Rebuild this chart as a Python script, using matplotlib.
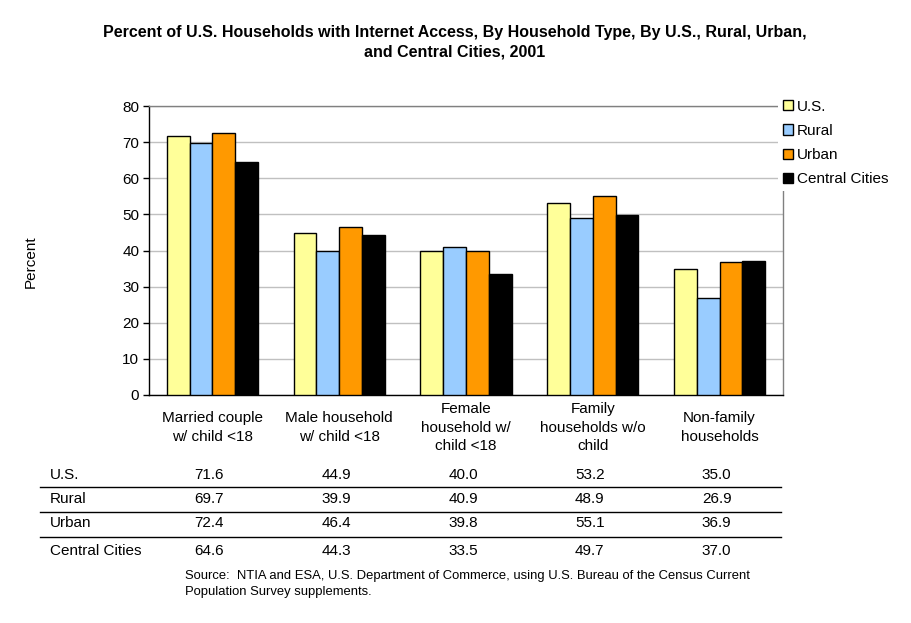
import matplotlib
matplotlib.use("Agg")
import matplotlib.pyplot as plt
import numpy as np
from matplotlib.patches import Patch

plt.rcParams['font.family'] = ['Liberation Sans', 'DejaVu Sans']

categories = ["Married couple\nw/ child <18", "Male household\nw/ child <18",
              "Female\nhousehold w/\nchild <18", "Family\nhouseholds w/o\nchild",
              "Non-family\nhouseholds"]
series_names = ["U.S.", "Rural", "Urban", "Central Cities"]
us = [71.6, 44.9, 40.0, 53.2, 35.0]
rural = [69.7, 39.9, 40.9, 48.9, 26.9]
urban = [72.4, 46.4, 39.8, 55.1, 36.9]
central = [64.6, 44.3, 33.5, 49.7, 37.0]
series = [us, rural, urban, central]
colors = ["#FFFF99", "#99CCFF", "#FF9900", "#000000"]
yticks = [0, 10, 20, 30, 40, 50, 60, 70, 80]

W, H = 911, 623
FS = 11
fig = plt.figure(figsize=(W / 100, H / 100), dpi=100)

def fx(px):
    return px / W

def fy(py):
    return 1 - py / H

ax = fig.add_axes([fx(149), fy(395), fx(783) - fx(149), fy(106) - fy(395)])
x = np.arange(len(categories))
bw = 0.18
for i, (vals, c) in enumerate(zip(series, colors)):
    ax.bar(x + (i - 1.5) * bw, vals, width=bw, color=c, edgecolor="black",
           linewidth=1.0, zorder=3)

ax.set_xlim(-0.5, len(categories) - 0.5)
ax.set_ylim(0, 80)
ax.set_yticks(yticks)
ax.set_yticklabels([str(t) for t in yticks], fontsize=FS)
ax.yaxis.grid(True, color="#C0C0C0", linewidth=1, zorder=0)
ax.set_xticks(x)
ax.set_xticklabels([])
ax.tick_params(axis="x", length=0)
ax.tick_params(axis="y", length=4, width=1, color="black", pad=3)
ax.spines["left"].set_color("black")
ax.spines["bottom"].set_color("black")
ax.spines["top"].set_color("#808080")
ax.spines["right"].set_color("#808080")
for s in ax.spines.values():
    s.set_linewidth(1)

# category labels
lab_y = (fy(427.5) - fy(395)) / (fy(106) - fy(395))
for i, lab in enumerate(categories):
    ax.text(i, lab_y, lab, transform=ax.get_xaxis_transform(), ha="center",
            va="center", fontsize=FS, linespacing=1.45)

fig.text(fx(31), fy(262), "Percent", rotation=90, ha="center", va="center",
         fontsize=FS)

fig.text(fx(455), fy(42.5), "Percent of U.S. Households with Internet Access, By Household Type, By U.S., Rural, Urban,\nand Central Cities, 2001",
         ha="center", va="center", fontsize=11.5, fontweight="bold", linespacing=1.36)

# legend
handles = [Patch(facecolor=c, edgecolor="black", linewidth=1) for c in colors]
leg = fig.legend(handles, series_names, loc="upper left",
                 bbox_to_anchor=(fx(778), fy(95)), fontsize=FS,
                 frameon=True, handlelength=0.65, handleheight=0.65,
                 handletextpad=0.3, labelspacing=0.67, borderpad=0.3,
                 borderaxespad=0)
leg.get_frame().set_facecolor("white")
leg.get_frame().set_edgecolor("none")
leg.get_frame().set_alpha(1)

# data table
row_y = [475, 499, 523, 551]
cat_px = [149 + (783 - 149) / 5 * (i + 0.5) for i in range(5)]
for r, (name, vals) in enumerate(zip(series_names, series)):
    fig.text(fx(50), fy(row_y[r]), name, ha="left", va="center", fontsize=FS)
    for i, v in enumerate(vals):
        fig.text(fx(cat_px[i]) - fx(3), fy(row_y[r]), f"{v:.1f}", ha="center",
                 va="center", fontsize=FS)
for ly in [487, 512, 537]:
    fig.add_artist(plt.Line2D([fx(40), fx(781)], [fy(ly), fy(ly)],
                              color="black", linewidth=1))

fig.text(fx(185), fy(576), "Source:  NTIA and ESA, U.S. Department of Commerce, using U.S. Bureau of the Census Current",
         ha="left", va="center", fontsize=9.4)
fig.text(fx(185), fy(592), "Population Survey supplements.",
         ha="left", va="center", fontsize=9.4)

fig.savefig("out.png", dpi=100)
